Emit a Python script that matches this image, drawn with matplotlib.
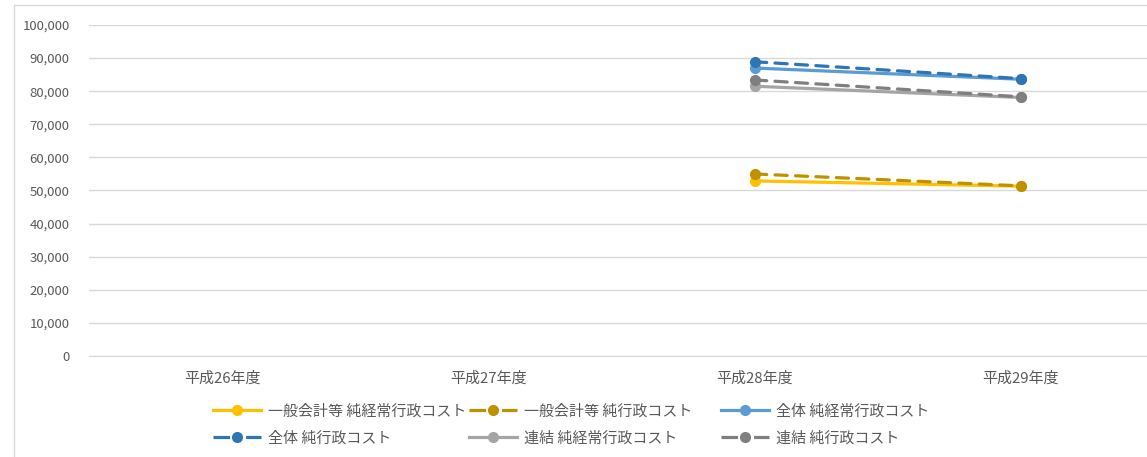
import numpy as np
import matplotlib.pyplot as plt
from matplotlib.lines import Line2D
from matplotlib.patches import Rectangle

plt.rcParams['font.family'] = ['Noto Sans CJK JP', 'DejaVu Sans']

# datos
categorias = ["平成26年度", "平成27年度", "平成28年度", "平成29年度"]
ippan_keijo = [np.nan, np.nan, 52900, 51300]
ippan_jun = [np.nan, np.nan, 55000, 51400]
zentai_keijo = [np.nan, np.nan, 87000, 83600]
zentai_jun = [np.nan, np.nan, 88900, 83800]
renketsu_keijo = [np.nan, np.nan, 81500, 78100]
renketsu_jun = [np.nan, np.nan, 83400, 78300]

series = [
    ("一般会計等 純経常行政コスト", ippan_keijo, "#FFC000", "-"),
    ("一般会計等 純行政コスト", ippan_jun, "#BF9000", "--"),
    ("全体 純経常行政コスト", zentai_keijo, "#5B9BD5", "-"),
    ("全体 純行政コスト", zentai_jun, "#2E75B6", "--"),
    ("連結 純経常行政コスト", renketsu_keijo, "#A5A5A5", "-"),
    ("連結 純行政コスト", renketsu_jun, "#7F7F7F", "--"),
]

W, H = 1147, 457
fig = plt.figure(figsize=(W / 100, H / 100), dpi=100)
ax = fig.add_axes([89 / W, 1 - 356 / H, (1154 - 89) / W, (356 - 25) / H])

x = np.arange(len(categorias))
handles = []
for nombre, vals, color, ls in series:
    ax.plot(x, vals, color=color, linestyle=ls, linewidth=2.3,
            dashes=(3.8, 2.6) if ls == "--" else (None, None),
            marker="o", markersize=7, solid_capstyle="round",
            dash_capstyle="round", label=nombre)
    handles.append(Line2D([], [], color=color, linestyle=ls, linewidth=2.3,
                          dashes=(5.2, 5.0) if ls == "--" else (None, None),
                          marker="o", markersize=7, label=nombre))

ax.set_xlim(-0.5, len(categorias) - 0.5)
ax.set_ylim(0, 100000)
ax.set_yticks(np.arange(0, 100001, 10000))
ax.yaxis.set_major_formatter(plt.FuncFormatter(lambda v, p: f"{int(v):,}"))
ax.set_xticks(x)
ax.set_xticklabels(categorias)
ax.grid(axis="y", color="#D9D9D9", linewidth=1)
ax.set_axisbelow(True)
for s in ax.spines.values():
    s.set_visible(False)
ax.spines["bottom"].set_visible(True)
ax.spines["bottom"].set_color("#D9D9D9")
ax.tick_params(axis="both", length=0, colors="#595959")
ax.tick_params(axis="y", pad=14, labelsize=9.5)
ax.tick_params(axis="x", pad=11, labelsize=10.8)

# marco del área del gráfico
fig.patches.append(Rectangle((14 / W, -0.1), 1.2, 1 - 5 / H + 0.1,
                             transform=fig.transFigure, fill=False,
                             edgecolor="#D9D9D9", linewidth=1))

# leyenda en tres columnas de ancho fijo
col_x = [213, 469, 721]
for i, cx in enumerate(col_x):
    leg = fig.legend(handles=[handles[i], handles[i + 3]], loc="upper left",
                     bbox_to_anchor=(cx / W, 1 - 404 / H), frameon=False,
                     fontsize=10.8, handlelength=3.2, handletextpad=0.5,
                     labelspacing=0.85, borderaxespad=0, borderpad=0)
    for t in leg.get_texts():
        t.set_color("#595959")

fig.savefig("out.png", dpi=100)
